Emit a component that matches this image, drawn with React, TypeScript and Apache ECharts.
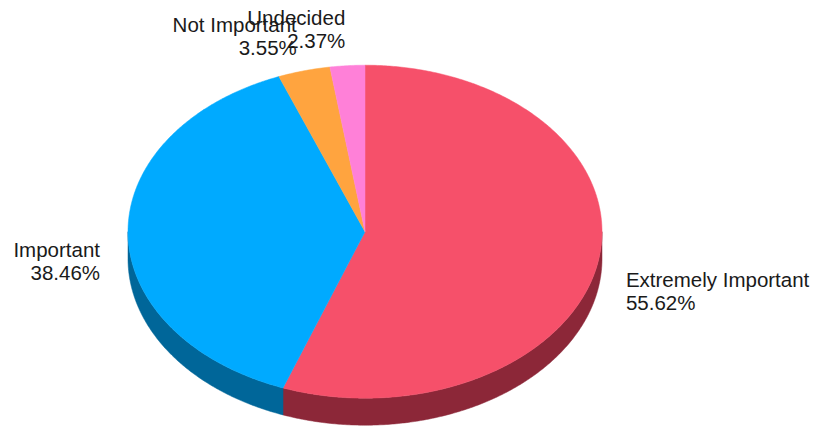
import React, { useEffect, useRef } from "react";
import * as echarts from "echarts";

const categories = ["Extremely Important", "Important", "Not Important", "Undecided"];
const counts = [188, 130, 12, 8];
const topColors = ["#F6506A", "#00AAFF", "#FFA43F", "#FF80D8"];
const sideColors = ["#8C2738", "#006699", "#A0662A", "#A04E88"];

const LAYOUT = { cx: 365, cy: 231.7, rx: 237, ry: 166.5, depth: 27, labelRx: 265, labelRy: 230, rightShift: -8 };

export default function App() {
  const ref = useRef<HTMLDivElement>(null);
  useEffect(() => {
    if (!ref.current) return;
    const chart = echarts.init(ref.current, null, { renderer: "svg" });
    const total = counts.reduce((a, b) => a + b, 0);
    let acc = 0;
    const data = counts.map((c, i) => {
      const s = acc / total;
      acc += c;
      const e = acc / total;
      return { name: categories[i], value: [c, s, e] };
    });
    const { cx, cy, rx, ry, depth, labelRx, labelRy, rightShift } = LAYOUT;
    const pt = (phi: number, dy = 0) => [cx + rx * Math.sin(phi), cy - ry * Math.cos(phi) + dy];
    const arc = (a: number, b: number, dy = 0) => {
      const pts: number[][] = [];
      const n = Math.max(2, Math.ceil(((b - a) * 180) / Math.PI) * 2);
      for (let k = 0; k <= n; k++) pts.push(pt(a + ((b - a) * k) / n, dy));
      return pts;
    };
    const renderItem = (params: any, api: any) => {
      const i = params.dataIndex;
      const val = api.value(0);
      const p1 = api.value(1) * Math.PI * 2;
      const p2 = api.value(2) * Math.PI * 2;
      const children: any[] = [];
      const a = Math.max(p1, Math.PI / 2);
      const b = Math.min(p2, (Math.PI * 3) / 2);
      if (a < b) {
        const upper = arc(a, b);
        const lower = arc(a, b, depth).reverse();
        children.push({
          type: "polygon",
          z2: 0,
          shape: { points: upper.concat(lower) },
          style: { fill: sideColors[i], stroke: sideColors[i], lineWidth: 0.5 },
        });
      }
      children.push({
        type: "polygon",
        z2: 1,
        shape: { points: [[cx, cy]].concat(arc(p1, p2)) },
        style: { fill: topColors[i], stroke: topColors[i], lineWidth: 0.5 },
      });
      const mid = (p1 + p2) / 2;
      const sx = Math.sin(mid);
      const pct = ((val / total) * 100).toFixed(2) + "%";
      children.push({
        type: "text",
        z2: 2,
        x: cx + labelRx * sx,
        y: cy + depth - labelRy * Math.cos(mid) + (sx >= 0 ? rightShift : 0),
        style: {
          text: categories[i] + "\n" + pct,
          fill: "#1a1a1a",
          font: '20.5px "Liberation Sans", Arial, sans-serif',
          lineHeight: 23,
          align: sx >= 0 ? "left" : "right",
          verticalAlign: "middle",
        },
      });
      return { type: "group", children };
    };
    chart.setOption({
      animation: false,
      backgroundColor: "#ffffff",
      series: [
        {
          type: "custom",
          coordinateSystem: "none",
          silent: true,
          renderItem,
          data,
        },
      ],
    });
    return () => chart.dispose();
  }, []);
  return (
    <div
      ref={ref}
      style={{ position: "fixed", left: 0, top: 0, width: 817, height: 429, background: "#fff" }}
    />
  );
}
